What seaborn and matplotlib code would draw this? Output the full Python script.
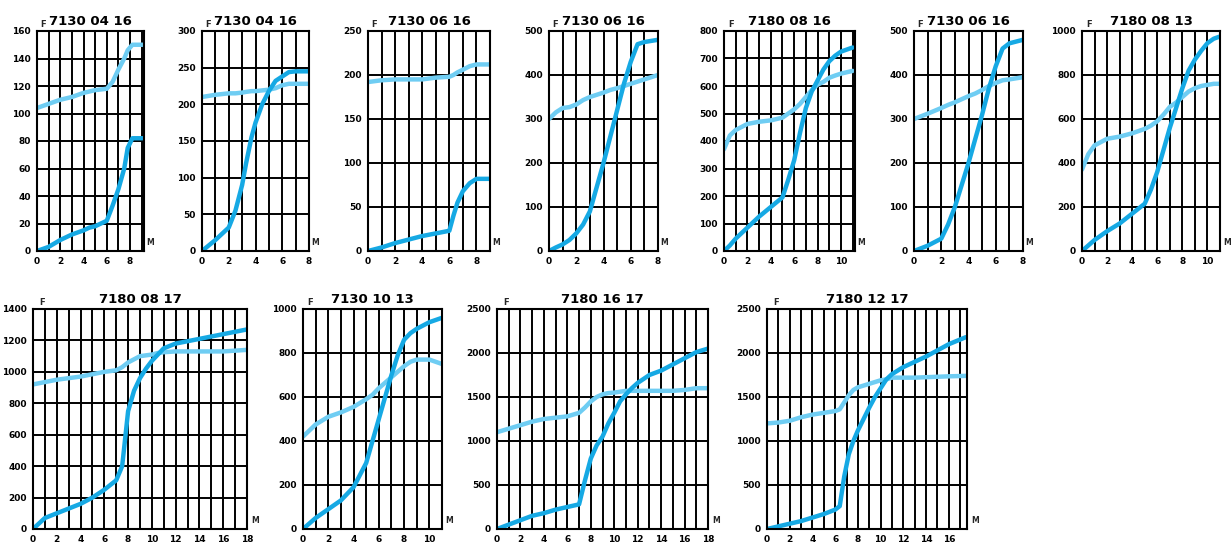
import pandas as pd
import matplotlib
matplotlib.use("Agg")
import matplotlib.pyplot as plt
import seaborn as sns

sns.set_style("white")
plt.rcParams["font.family"] = ["DejaVu Sans"]

LIGHT = "#6fcdf3"
DARK = "#16a9e4"

# panel titles
titles = ["7130 04 16", "7130 04 16", "7130 06 16", "7130 06 16", "7180 08 16", "7130 06 16",
          "7180 08 13", "7180 08 17", "7130 10 13", "7180 16 17", "7180 12 17"]

# series values per panel (x, light curve, dark curve)
p1_x = [0, 1, 2, 3, 4, 4.5, 5, 6, 6.5, 7, 7.5, 7.8, 8.2, 9.2]
p1_light = [104, 107, 110, 112, 115, 116, 117, 118, 123, 132, 140, 146, 150, 150]
p1_dark = [0, 3, 8, 12, 15, 17, 18, 22, 33, 45, 60, 75, 82, 82]

p2_x = [0, 1, 2, 2.5, 3, 3.3, 3.7, 4, 4.5, 5, 5.5, 6, 6.5, 7, 8]
p2_light = [210, 213, 215, 215, 216, 217, 218, 218, 219, 220, 222, 226, 228, 228, 228]
p2_dark = [0, 15, 32, 55, 90, 120, 155, 175, 200, 218, 232, 238, 244, 245, 245]

p3_x = [0, 1, 2, 3, 4, 5, 6, 6.3, 6.6, 7, 7.5, 8, 9]
p3_light = [192, 194, 195, 195, 195, 197, 198, 200, 203, 206, 210, 212, 212]
p3_dark = [0, 4, 9, 13, 17, 20, 23, 40, 55, 68, 77, 82, 82]

p4_x = [0, 0.5, 1, 1.5, 2, 2.5, 3, 3.5, 4, 4.5, 5, 5.5, 6, 6.5, 7, 8]
p4_light = [300, 315, 325, 327, 333, 343, 350, 355, 360, 366, 370, 375, 380, 385, 390, 400]
p4_dark = [0, 8, 15, 25, 40, 60, 90, 145, 200, 260, 320, 380, 430, 470, 475, 480]

p5_x = [0, 0.5, 1, 2, 3, 4, 5, 5.5, 6, 6.5, 7, 7.5, 8, 8.5, 9, 9.5, 10, 11]
p5_light = [370, 420, 440, 462, 470, 475, 485, 500, 515, 535, 560, 585, 605, 615, 630, 638, 645, 655]
p5_dark = [0, 20, 45, 85, 125, 160, 195, 260, 330, 430, 520, 580, 620, 660, 690, 710, 725, 740]

p6_x = [0, 1, 2, 2.5, 3, 3.5, 4, 4.5, 5, 5.5, 6, 6.5, 7, 8]
p6_light = [300, 312, 325, 332, 338, 345, 352, 358, 366, 375, 382, 388, 390, 395]
p6_dark = [0, 12, 28, 60, 100, 150, 200, 255, 310, 370, 420, 460, 472, 480]

p7_x = [0, 0.5, 1, 2, 3, 4, 5, 5.5, 6, 6.5, 7, 7.5, 8, 8.5, 9, 9.5, 10, 10.5, 11]
p7_light = [370, 440, 480, 510, 520, 535, 555, 570, 590, 620, 655, 675, 700, 725, 740, 750, 755, 760, 760]
p7_dark = [0, 25, 50, 90, 125, 170, 215, 280, 360, 460, 560, 650, 740, 820, 870, 910, 945, 965, 975]

p8_x = [0, 1, 2, 3, 4, 5, 6, 7, 7.5, 8, 8.5, 9, 9.5, 10, 10.5, 11, 12, 14, 16, 18]
p8_light = [920, 935, 950, 960, 970, 985, 1000, 1010, 1030, 1060, 1080, 1100, 1105, 1110, 1120, 1125, 1130, 1130, 1130, 1140]
p8_dark = [0, 70, 100, 130, 160, 200, 250, 310, 400, 750, 880, 960, 1020, 1070, 1110, 1150, 1180, 1210, 1240, 1270]

p9_x = [0, 1, 2, 3, 4, 5, 5.5, 6, 6.5, 7, 7.5, 8, 8.5, 9, 10, 11]
p9_light = [420, 475, 510, 530, 555, 590, 610, 640, 665, 690, 715, 740, 760, 770, 770, 750]
p9_dark = [0, 50, 90, 130, 190, 300, 400, 500, 600, 700, 790, 860, 890, 910, 940, 960]

p10_x = [0, 1, 2, 3, 4, 5, 6, 7, 7.5, 8, 8.5, 9, 9.5, 10, 10.5, 11, 11.5, 12, 13, 14, 15, 16, 17, 18]
p10_light = [1100, 1140, 1180, 1220, 1250, 1265, 1280, 1320, 1380, 1450, 1500, 1530, 1545, 1550, 1560, 1570, 1570,
             1570, 1570, 1570, 1570, 1580, 1600, 1600]
p10_dark = [0, 50, 100, 150, 180, 220, 250, 280, 550, 800, 950, 1050, 1200, 1320, 1450, 1530, 1600, 1660, 1750,
            1800, 1870, 1940, 2010, 2050]

p11_x = [0, 1, 2, 3, 4, 5, 6, 6.4, 6.8, 7.2, 7.6, 8, 8.5, 9, 9.5, 10, 10.5, 11, 12, 13, 14, 15, 16, 17.5]
p11_light = [1200, 1210, 1230, 1270, 1300, 1320, 1340, 1360, 1440, 1520, 1580, 1610, 1630, 1650, 1670, 1690, 1700,
             1720, 1720, 1720, 1725, 1730, 1735, 1740]
p11_dark = [0, 30, 60, 90, 130, 170, 220, 260, 600, 850, 1000, 1120, 1250, 1380, 1500, 1600, 1700, 1760, 1840,
            1900, 1960, 2030, 2100, 2180]

panels = [
    (p1_x, p1_light, p1_dark, 9.2, 160, 20),
    (p2_x, p2_light, p2_dark, 8, 300, 50),
    (p3_x, p3_light, p3_dark, 9, 250, 50),
    (p4_x, p4_light, p4_dark, 8, 500, 100),
    (p5_x, p5_light, p5_dark, 11.2, 800, 100),
    (p6_x, p6_light, p6_dark, 8, 500, 100),
    (p7_x, p7_light, p7_dark, 11, 1000, 200),
    (p8_x, p8_light, p8_dark, 18, 1400, 200),
    (p9_x, p9_light, p9_dark, 11, 1000, 200),
    (p10_x, p10_light, p10_dark, 18, 2500, 500),
    (p11_x, p11_light, p11_dark, 17.6, 2500, 500),
]

# axes boxes in pixels: left, right, top, bottom
boxes = [
    (37, 144, 31, 251), (202, 309, 31, 251), (368, 490, 31, 251), (549, 658, 31, 251),
    (724, 855, 31, 251), (914, 1023, 31, 251), (1082, 1220, 31, 251),
    (33, 247, 309, 529), (303, 442, 309, 529), (497, 708, 309, 529), (767, 967, 309, 529),
]

W, H = 1231, 549
fig = plt.figure(figsize=(W / 100, H / 100), dpi=100)

for i, (x, light, dark, xmax, ymax, ystep) in enumerate(panels):
    l, r, t, b = boxes[i]
    ax = fig.add_axes([l / W, 1 - b / H, (r - l) / W, (b - t) / H])
    df = pd.DataFrame({"x": x, "light": light, "dark": dark})
    sns.lineplot(data=df, x="x", y="light", color=LIGHT, linewidth=3.2, ax=ax)
    sns.lineplot(data=df, x="x", y="dark", color=DARK, linewidth=3.2, ax=ax)
    ax.set_xlim(0, xmax)
    ax.set_ylim(0, ymax)
    ax.set_xticks(range(0, int(xmax) + 1, 1), minor=True)
    ax.set_xticks(range(0, int(xmax) + 1, 2))
    ax.set_yticks(range(0, ymax + 1, ystep))
    ax.grid(True, which="both", color="black", linewidth=1.4)
    ax.set_axisbelow(True)
    for s in ax.spines.values():
        s.set_color("black")
        s.set_linewidth(1.5)
    ax.tick_params(axis="both", which="major", labelsize=6.5, length=2.5, width=1, pad=2,
                   colors="black")
    ax.tick_params(axis="x", which="minor", length=0)
    for lab in ax.get_xticklabels() + ax.get_yticklabels():
        lab.set_fontweight("bold")
    ax.set_xlabel("")
    ax.set_ylabel("")
    ax.set_title(titles[i], fontsize=9.5, fontweight="bold", color="black", pad=4)
    ax.text(0.03, 1.01, "F", transform=ax.transAxes, fontsize=6, fontweight="bold",
            ha="left", va="bottom")
    ax.text(1.02, 0.02, "M", transform=ax.transAxes, fontsize=5.5, fontweight="bold",
            ha="left", va="bottom")

fig.savefig("out.png", dpi=100, facecolor="white")
